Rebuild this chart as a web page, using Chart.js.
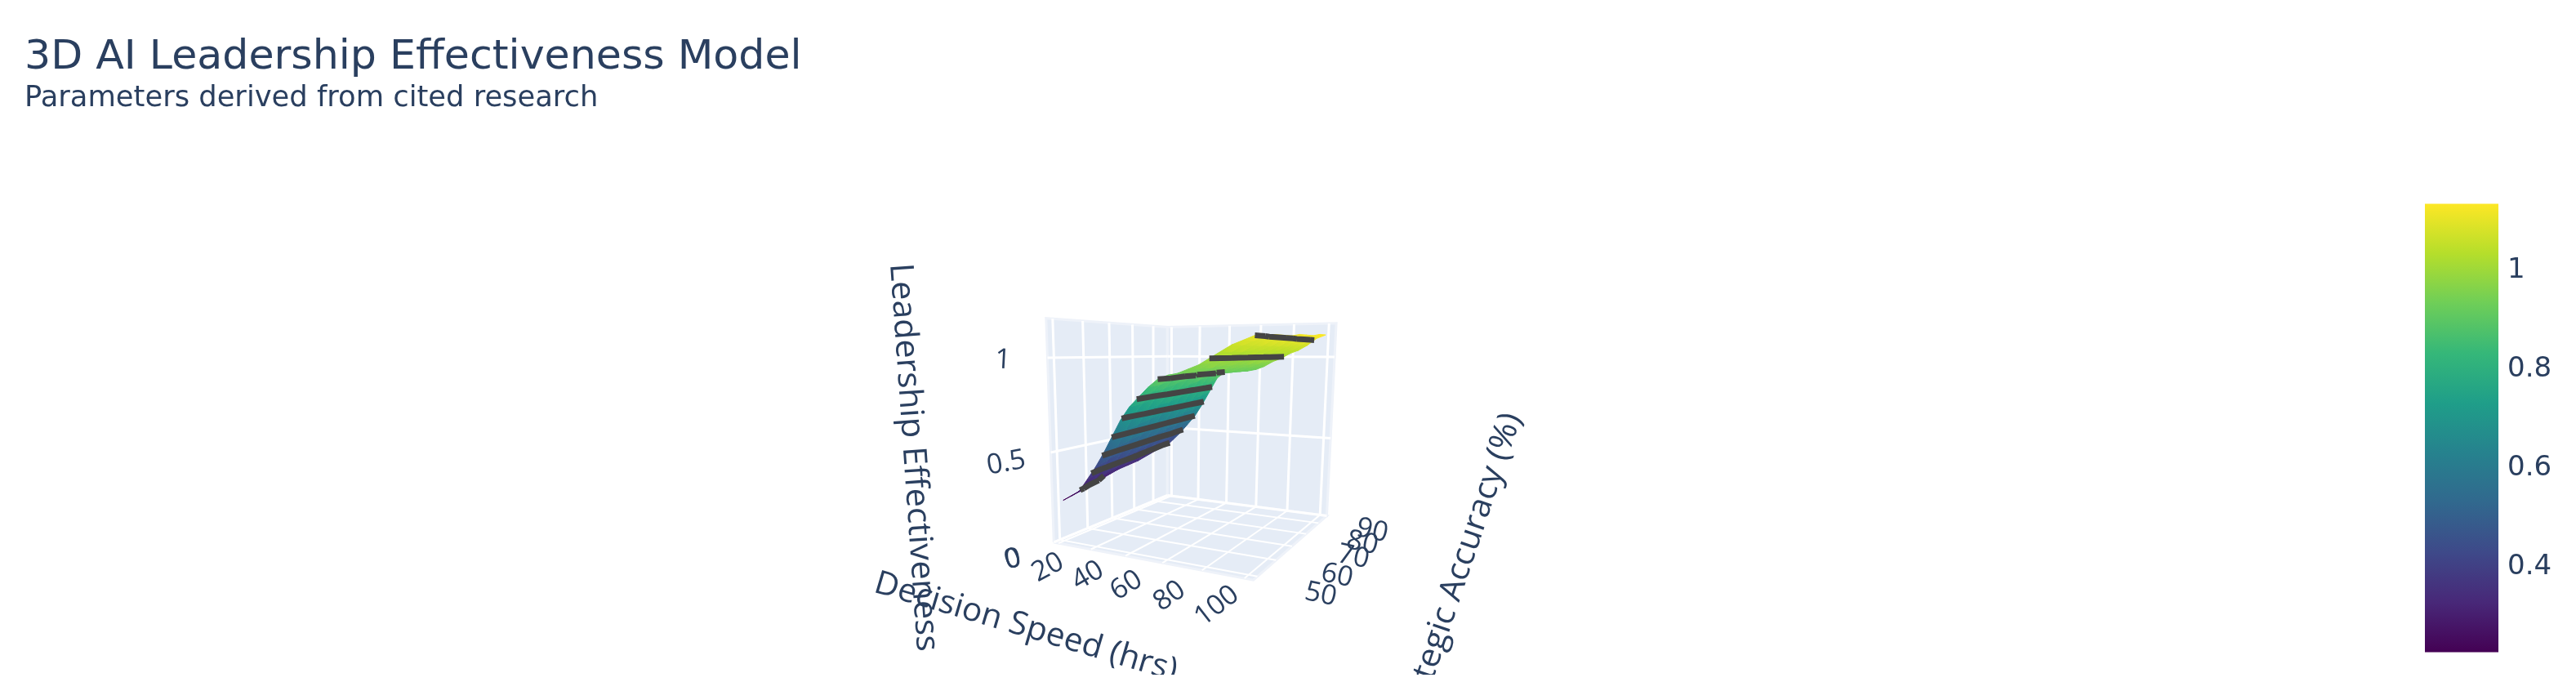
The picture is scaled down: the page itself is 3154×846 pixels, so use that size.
<!DOCTYPE html>
<html><head><meta charset="utf-8">
<script src="https://cdn.jsdelivr.net/npm/chart.js@4"></script>
<style>html,body{margin:0;padding:0;background:#fff}canvas{filter:blur(0.7px)}</style></head>
<body><canvas id="c" width="3154" height="846" style="display:block"></canvas>
<script>
const xTicks=[0,20,40,60,80,100], yTicks=[50,60,70,80,90], zTicks=[0,0.5,1], cbTicks=[0.4,0.6,0.8,1];
const contourLevels=[0.3,0.4,0.5,0.6,0.7,0.8,0.9,1.0,1.1];
const speedGrid=[0,5,10,15,20,25,30,35,40,45,50,55,60,65,70,75,80,85,90,95,100];
const accuracyGrid=[50,55,60,65,70,75,80,85,90,95];
const effectivenessAt50=[0.23,0.26,0.29,0.36,0.43,0.51,0.60,0.69,0.76,0.81,0.86,0.90,0.92,0.93,0.95,0.97,1.00,1.03,1.06,1.08,1.10];
const effectivenessAt55=[0.25,0.28,0.32,0.39,0.46,0.53,0.62,0.71,0.77,0.83,0.87,0.90,0.92,0.93,0.95,0.98,1.00,1.03,1.06,1.08,1.10];
const effectivenessAt60=[0.28,0.30,0.35,0.41,0.48,0.55,0.64,0.72,0.79,0.84,0.89,0.91,0.92,0.93,0.95,0.98,1.00,1.03,1.06,1.09,1.11];
const effectivenessAt65=[0.30,0.32,0.37,0.43,0.50,0.57,0.66,0.74,0.80,0.86,0.90,0.91,0.92,0.93,0.96,0.98,1.01,1.04,1.06,1.09,1.11];
const effectivenessAt70=[0.31,0.34,0.39,0.45,0.52,0.59,0.68,0.75,0.82,0.88,0.90,0.91,0.92,0.93,0.96,0.98,1.01,1.04,1.06,1.09,1.11];
const effectivenessAt75=[0.32,0.36,0.41,0.47,0.54,0.61,0.69,0.77,0.84,0.90,0.90,0.91,0.92,0.94,0.96,0.99,1.01,1.04,1.06,1.09,1.12];
const effectivenessAt80=[0.33,0.38,0.43,0.49,0.56,0.63,0.71,0.79,0.86,0.90,0.90,0.91,0.92,0.94,0.96,0.99,1.01,1.04,1.06,1.10,1.12];
const effectivenessAt85=[0.35,0.40,0.45,0.50,0.57,0.65,0.73,0.81,0.88,0.90,0.91,0.91,0.92,0.94,0.96,0.99,1.02,1.04,1.07,1.10,1.12];
const effectivenessAt90=[0.37,0.42,0.47,0.52,0.59,0.66,0.75,0.83,0.90,0.90,0.91,0.91,0.92,0.94,0.97,0.99,1.02,1.04,1.07,1.10,1.13];
const effectivenessAt95=[0.38,0.43,0.48,0.54,0.60,0.68,0.77,0.86,0.90,0.90,0.91,0.91,0.92,0.94,0.97,0.99,1.02,1.04,1.07,1.11,1.13];
const surface=[effectivenessAt50,effectivenessAt55,effectivenessAt60,effectivenessAt65,effectivenessAt70,effectivenessAt75,effectivenessAt80,effectivenessAt85,effectivenessAt90,effectivenessAt95];
const RX=[-3,104],RY=[48,97.5],RZ=[0,1.2];
const CMIN=0.228,CMAX=1.135;
const viridis=['#440154','#482878','#3e4989','#31688e','#26828e','#1f9e89','#35b779','#6ece58','#b5de2b','#fde725'];
// camera fit: normalised scene position -> page pixel for the box corners and wall gridlines
const cal=[[0,0,0,1290,662],[1,0,0,1537,711],[1,1,0,1624,631],[0,1,0,1428,606],[0,0,1,1278,392],[0,1,1,1431,399],[1,1,1,1635,395],
[0,0,.4167,1285,553],[0,0,.8333,1285,438],[0,1,.4167,1430,527],[0,1,.8333,1430,435],[1,1,.4167,1630,537],[1,1,.8333,1633,437]];
function solve(A,b){const n=b.length;const M=A.map((r,i)=>[...r,b[i]]);for(let i=0;i<n;i++){let p=i;for(let k=i;k<n;k++)if(Math.abs(M[k][i])>Math.abs(M[p][i]))p=k;[M[i],M[p]]=[M[p],M[i]];for(let k=0;k<n;k++)if(k!=i){const f=M[k][i]/M[i][i];for(let j=i;j<=n;j++)M[k][j]-=f*M[i][j];}}return M.map((r,i)=>r[n]/r[i]);}
const rows=[],rhs=[];for(const [u,v,w,X,Y] of cal){rows.push([u,v,w,1,0,0,0,0,-X*u,-X*v,-X*w]);rhs.push(X);rows.push([0,0,0,0,u,v,w,1,-Y*u,-Y*v,-Y*w]);rhs.push(Y);}
const AtA=Array.from({length:11},(_,i)=>Array.from({length:11},(_,j)=>rows.reduce((s,r)=>s+r[i]*r[j],0)));const Atb=Array.from({length:11},(_,i)=>rows.reduce((s,r,k)=>s+r[i]*rhs[k],0));
const p=solve(AtA,Atb);
const nx=x=>(x-RX[0])/(RX[1]-RX[0]),ny=y=>(y-RY[0])/(RY[1]-RY[0]),nz=z=>(z-RZ[0])/(RZ[1]-RZ[0]);
const H=(x,y,z)=>p[8]*nx(x)+p[9]*ny(y)+p[10]*nz(z)+1;
function P3(x,y,z){const u=nx(x),v=ny(y),w=nz(z),h=p[8]*u+p[9]*v+p[10]*w+1;return {x:(p[0]*u+p[1]*v+p[2]*w+p[3])/h,y:(p[4]*u+p[5]*v+p[6]*w+p[7])/h};}
const hex=s=>[1,3,5].map(i=>parseInt(s.substr(i,2),16));
function vir(z){const t=Math.max(0,Math.min(1,(z-CMIN)/(CMAX-CMIN)))*(viridis.length-1);const i=Math.min(viridis.length-2,Math.floor(t)),k=t-i,a=hex(viridis[i]),b=hex(viridis[i+1]);return 'rgb('+a.map((v,j)=>Math.round(v+(b[j]-v)*k)).join(',')+')';}
const canvas=document.getElementById('c'),g=canvas.getContext('2d');
const ds=[];const wall=(pts)=>ds.push({data:pts.map(a=>P3(...a)),showLine:true,fill:'shape',backgroundColor:'#E5ECF6',borderColor:'#EEF2F9',borderWidth:3,pointRadius:0});
const [x0,x1]=RX,[y0,y1]=RY,[z0,z1]=RZ;
wall([[x0,y0,z0],[x0,y1,z0],[x0,y1,z1],[x0,y0,z1],[x0,y0,z0]]);wall([[x0,y1,z0],[x1,y1,z0],[x1,y1,z1],[x0,y1,z1],[x0,y1,z0]]);wall([[x0,y0,z0],[x1,y0,z0],[x1,y1,z0],[x0,y1,z0],[x0,y0,z0]]);
const line=(a,b,w)=>ds.push({data:[P3(...a),P3(...b)],showLine:true,borderColor:'#fff',borderWidth:w,pointRadius:0,fill:false});
for(const x of xTicks){line([x,y0,z0],[x,y1,z0],2);line([x,y1,z0],[x,y1,z1],3);}
for(const y of yTicks){line([x0,y,z0],[x1,y,z0],2);line([x0,y,z0],[x0,y,z1],3);}
for(const z of zTicks){line([x0,y0,z],[x0,y1,z],3);line([x0,y1,z],[x1,y1,z],3);}
// surface cells, far ones first
const cells=[];
for(let j=0;j<accuracyGrid.length-1;j++)for(let i=0;i<speedGrid.length-1;i++){
 const c=[[i,j],[i+1,j],[i+1,j+1],[i,j+1]].map(([a,b])=>[speedGrid[a],accuracyGrid[b],surface[b][a]]);
 cells.push({c,d:c.reduce((s,q)=>s+H(...q),0)});}
cells.sort((a,b)=>b.d-a.d);
for(const {c} of cells){
 const lo=c.reduce((m,q)=>q[2]<m[2]?q:m),hi=c.reduce((m,q)=>q[2]>m[2]?q:m),a=P3(...lo),b=P3(...hi);
 let col=vir((lo[2]+hi[2])/2);
 if(hi[2]>lo[2]){col=g.createLinearGradient(a.x,a.y,b.x,b.y);for(let k=0;k<=4;k++)col.addColorStop(k/4,vir(lo[2]+(hi[2]-lo[2])*k/4));}
 ds.push({data:[...c,c[0]].map(q=>P3(...q)),showLine:true,fill:'shape',backgroundColor:col,borderColor:col,borderWidth:1,pointRadius:0});
}
// contour lines traced on the surface grid
for(const lv of contourLevels){
 const data=[];
 for(let j=0;j<accuracyGrid.length-1;j++)for(let i=0;i<speedGrid.length-1;i++){
  const c=[[i,j],[i+1,j],[i+1,j+1],[i,j+1]].map(([a,b])=>[speedGrid[a],accuracyGrid[b],surface[b][a]]);
  const hit=[];for(let k=0;k<4;k++){const q=c[k],r=c[(k+1)%4];if((q[2]<lv)!==(r[2]<lv)){const m=(lv-q[2])/(r[2]-q[2]);hit.push(P3(q[0]+(r[0]-q[0])*m,q[1]+(r[1]-q[1])*m,lv));}}
  if(hit.length>=2){data.push(hit[0],hit[1],{x:NaN,y:NaN});}
 }
 ds.push({data,showLine:true,fill:false,borderColor:'#444444',borderWidth:7,pointRadius:0,spanGaps:false});
}
// colour bar
const CB={x:3014,w:90,top:249.5,bottom:798.6};
const cbY=v=>CB.bottom-(v-CMIN)/(CMAX-CMIN)*(CB.bottom-CB.top);
const cbg=g.createLinearGradient(0,CB.bottom,0,CB.top);viridis.forEach((s,i)=>cbg.addColorStop(i/(viridis.length-1),s));
ds.push({data:[{x:CB.x,y:CB.bottom},{x:CB.x,y:CB.top}],showLine:true,fill:false,borderColor:cbg,borderWidth:CB.w,borderCapStyle:'butt',pointRadius:0});
ds.forEach((d,i)=>d.order=ds.length-i);
const C='#2a3f5f',OS='"Open Sans"';
const xLab=[[0,1240,685,-20],[20,1283,695,-28],[40,1332,705,-30],[60,1379,717,-32],[80,1432,730,-35],[100,1490,742,-38]];
const yLab=[[50,1617,728],[60,1637,705],[70,1657,682],[80,1668,665],[90,1680,650]];
const zLab=[[0,1240,685,-8],[0.5,1232,567,-10],[1,1228,441,3]];
function txt(c,s,x,y,rot,font,width,align,factor){c.save();c.beginPath();c.rect(0,0,3154,826);c.clip();c.translate(x,y);c.rotate(rot*Math.PI/180);c.font=font;c.fillStyle=C;c.textAlign=align||'center';c.textBaseline='middle';if(width){const m=c.measureText(s).width;c.scale(width/m,1);}if(factor)c.scale(factor,1);c.fillText(s,0,0);c.restore();}
const textPlugin={id:'t',afterDraw(ch){const c=ch.ctx;
 for(const [v,x,y,r] of xLab)txt(c,String(v),x,y,r,'34px '+OS);
 for(const [v,x,y] of yLab)txt(c,String(v),x,y,12,'34px '+OS);
 for(const [v,x,y,r] of zLab)txt(c,String(v),x,y,r,'34px '+OS);
 txt(c,'Leadership Effectiveness',1118,560,86,'40px '+OS,476);
 txt(c,'Decision Speed (hrs)',1256,768,16.5,'40px '+OS,385);
 txt(c,'Strategic Accuracy (%)',1852,507,-71.4,'40px '+OS,0,'right',1.03);
 c.textBaseline='alphabetic';c.textAlign='left';c.fillStyle=C;
 c.font='50.6px "DejaVu Sans"';c.fillText('3D AI Leadership Effectiveness Model',30,84);
 c.font='35.3px "DejaVu Sans"';c.fillText('Parameters derived from cited research',30,130);
 c.textBaseline='middle';c.font='34px "DejaVu Sans"';for(const v of cbTicks)c.fillText(String(v),3070,cbY(v));
}};
new Chart(canvas,{type:'scatter',data:{datasets:ds},plugins:[textPlugin],options:{responsive:false,animation:false,devicePixelRatio:1,layout:{padding:0},plugins:{legend:{display:false},tooltip:{enabled:false}},scales:{x:{display:false,min:0,max:3154},y:{display:false,min:0,max:846,reverse:true}}}});
</script></body></html>
